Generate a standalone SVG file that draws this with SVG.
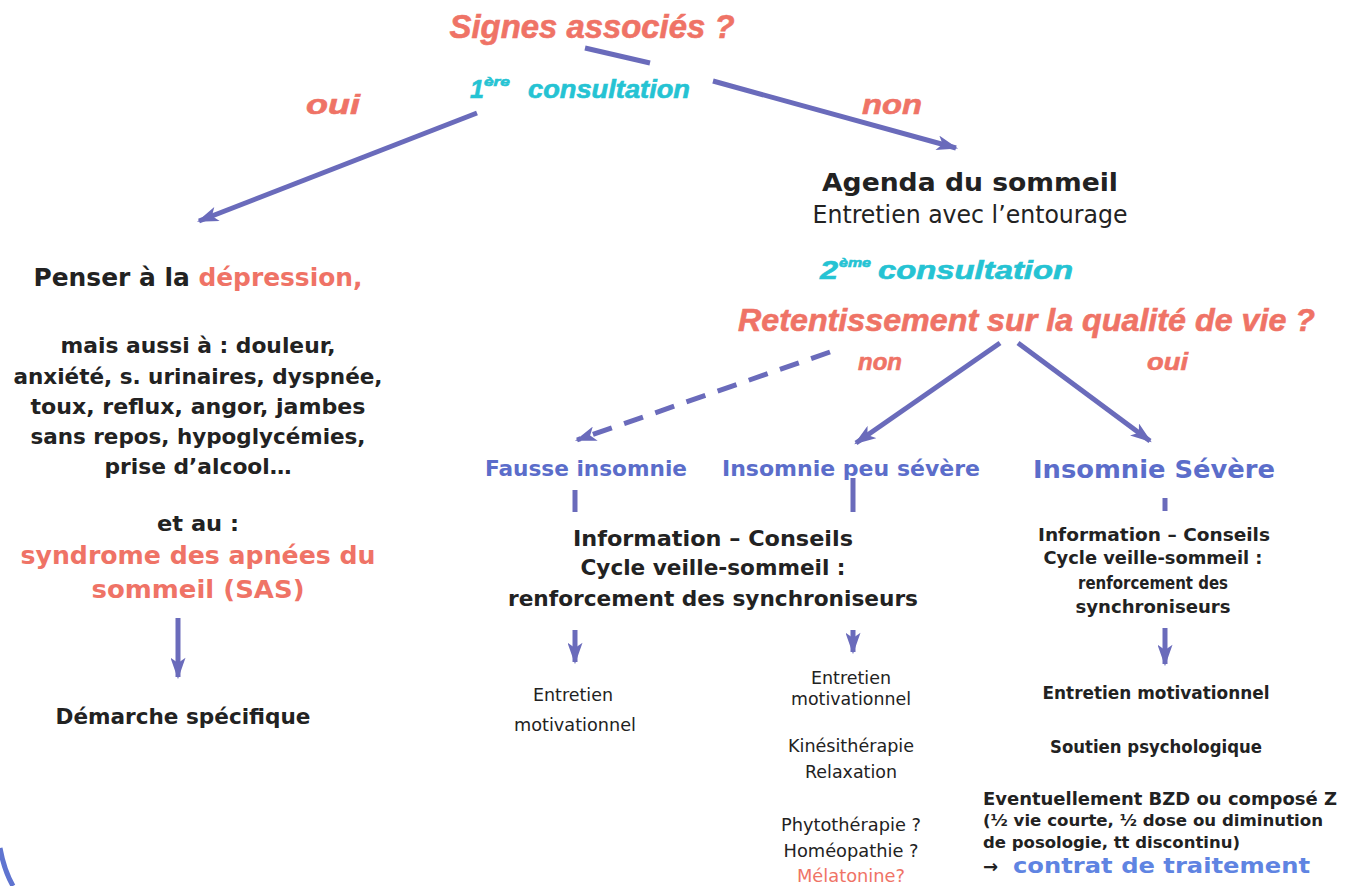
<svg xmlns="http://www.w3.org/2000/svg" width="1346" height="886" viewBox="0 0 1346 886">
<defs>
<style>
.h{font-family:"Liberation Sans Narrow","Liberation Sans",Arial,sans-serif;font-weight:bold;font-style:italic;stroke-width:0.6;}
.b{font-family:"DejaVu Sans",Verdana,sans-serif;font-weight:bold;fill:#222;}
.r{font-family:"DejaVu Sans",Verdana,sans-serif;fill:#222;}
.bl{font-family:"DejaVu Sans",Verdana,sans-serif;font-weight:bold;fill:#5b6dca;}
.c{text-anchor:middle;}
text.sal,tspan.sal{fill:#ef7366;}
text.h.sal{stroke:#ef7366;}
text.cy{fill:#25c3d3;stroke:#25c3d3;}
text.ct{fill:#5f84e2;}
.ln{stroke:#6a6bbb;stroke-width:5;fill:none;stroke-linecap:butt;}
</style>
<marker id="ah" viewBox="0 0 20 14" refX="18" refY="7" markerWidth="22" markerHeight="15" markerUnits="userSpaceOnUse" orient="auto">
<path d="M0,0 L20,7 L0,14 L5,7 z" fill="#6a6bbb"/>
</marker>
</defs>
<rect width="1346" height="886" fill="#fff"/>

<g id="connectors">
<path class="ln" d="M585,48 L650,63"/>
<path class="ln" d="M713,81 L956,148" marker-end="url(#ah)"/>
<path class="ln" d="M477,113 L199,221" marker-end="url(#ah)"/>
<path class="ln" d="M830,352 L577,440" stroke-width="6" stroke-dasharray="20 13" marker-end="url(#ah)"/>
<path class="ln" d="M1000,343 L856,443" marker-end="url(#ah)"/>
<path class="ln" d="M1018,343 L1150,441" marker-end="url(#ah)"/>
<path class="ln" d="M575,490 L575,512" stroke-width="6"/>
<path class="ln" d="M853,478 L853,512" stroke-width="6"/>
<path class="ln" d="M1165,498 L1165,511" stroke-width="6"/>
<path class="ln" d="M575,630 L575,662" stroke-width="4" marker-end="url(#ah)"/>
<path class="ln" d="M853,630 L853,652" stroke-width="4" marker-end="url(#ah)"/>
<path class="ln" d="M1165,628 L1165,664" stroke-width="4" marker-end="url(#ah)"/>
<path class="ln" d="M178,618 L178,677" stroke-width="4" marker-end="url(#ah)"/>
<path d="M0,848 Q4,870 13,886" stroke="#5f74d0" stroke-width="5" fill="none"/>
</g>

<g id="n-signes">
<text class="h sal c" x="592" y="38" font-size="33" textLength="285" lengthAdjust="spacingAndGlyphs">Signes associés ?</text>
</g>
<g id="n-consult1">
<text class="h cy" x="470" y="98" font-size="25">1</text>
<text class="h cy" x="484" y="86" font-size="13" textLength="26" lengthAdjust="spacingAndGlyphs" stroke-width="0.2">ère</text>
<text class="h cy" x="528" y="98" font-size="25" textLength="162" lengthAdjust="spacingAndGlyphs">consultation</text>
</g>
<g id="l-oui1"><text class="h sal" x="306" y="114" font-size="28" textLength="54" lengthAdjust="spacingAndGlyphs">oui</text></g>
<g id="l-non1"><text class="h sal" x="862" y="114" font-size="28" textLength="60" lengthAdjust="spacingAndGlyphs">non</text></g>

<g id="n-agenda">
<text class="b c" x="970" y="191" font-size="24" textLength="296" lengthAdjust="spacingAndGlyphs">Agenda du sommeil</text>
<text class="r c" x="970" y="223" font-size="24" textLength="315" lengthAdjust="spacingAndGlyphs">Entretien avec l’entourage</text>
</g>
<g id="n-consult2">
<text class="h cy" x="820" y="279" font-size="25" textLength="18" lengthAdjust="spacingAndGlyphs">2</text>
<text class="h cy" x="839" y="267" font-size="13" textLength="32" lengthAdjust="spacingAndGlyphs" stroke-width="0.2">ème</text>
<text class="h cy" x="878" y="279" font-size="25" textLength="195" lengthAdjust="spacingAndGlyphs">consultation</text>
</g>
<g id="n-retent">
<text class="h sal" x="738" y="331" font-size="32" textLength="577" lengthAdjust="spacingAndGlyphs">Retentissement sur la qualité de vie ?</text>
</g>
<g id="l-non2"><text class="h sal" x="858" y="370" font-size="24" textLength="44" lengthAdjust="spacingAndGlyphs">non</text></g>
<g id="l-oui2"><text class="h sal" x="1147" y="370" font-size="24" textLength="41" lengthAdjust="spacingAndGlyphs">oui</text></g>

<g id="n-fausse"><text class="bl" x="485" y="476" font-size="21" textLength="202" lengthAdjust="spacingAndGlyphs">Fausse insomnie</text></g>
<g id="n-peu"><text class="bl" x="722" y="476" font-size="21" textLength="258" lengthAdjust="spacingAndGlyphs">Insomnie peu sévère</text></g>
<g id="n-severe"><text class="bl" x="1033" y="478" font-size="25" textLength="242" lengthAdjust="spacingAndGlyphs">Insomnie Sévère</text></g>

<g id="n-info-mid">
<text class="b c" x="713" y="546" font-size="22" textLength="280" lengthAdjust="spacingAndGlyphs">Information – Conseils</text>
<text class="b c" x="713" y="575" font-size="22" textLength="265" lengthAdjust="spacingAndGlyphs">Cycle veille-sommeil :</text>
<text class="b c" x="713" y="606" font-size="22" textLength="410" lengthAdjust="spacingAndGlyphs">renforcement des synchroniseurs</text>
</g>
<g id="n-info-right">
<text class="b c" x="1154" y="541" font-size="18" textLength="232" lengthAdjust="spacingAndGlyphs">Information – Conseils</text>
<text class="b c" x="1153" y="564" font-size="18" textLength="219" lengthAdjust="spacingAndGlyphs">Cycle veille-sommeil :</text>
<text class="b c" x="1153" y="589" font-size="18" textLength="150" lengthAdjust="spacingAndGlyphs">renforcement des</text>
<text class="b c" x="1153" y="613" font-size="18" textLength="155" lengthAdjust="spacingAndGlyphs">synchroniseurs</text>
</g>

<g id="n-entretien-left">
<text class="r c" x="573" y="701" font-size="17" textLength="80" lengthAdjust="spacingAndGlyphs">Entretien</text>
<text class="r c" x="575" y="731" font-size="17" textLength="122" lengthAdjust="spacingAndGlyphs">motivationnel</text>
</g>
<g id="n-entretien-mid">
<text class="r c" x="851" y="684" font-size="17" textLength="80" lengthAdjust="spacingAndGlyphs">Entretien</text>
<text class="r c" x="851" y="705" font-size="17" textLength="120" lengthAdjust="spacingAndGlyphs">motivationnel</text>
<text class="r c" x="851" y="752" font-size="17" textLength="126" lengthAdjust="spacingAndGlyphs">Kinésithérapie</text>
<text class="r c" x="851" y="778" font-size="17" textLength="92" lengthAdjust="spacingAndGlyphs">Relaxation</text>
<text class="r c" x="851" y="831" font-size="17" textLength="140" lengthAdjust="spacingAndGlyphs">Phytothérapie ?</text>
<text class="r c" x="851" y="857" font-size="17" textLength="135" lengthAdjust="spacingAndGlyphs">Homéopathie ?</text>
<text class="r c sal" x="851" y="882" font-size="17" textLength="108" lengthAdjust="spacingAndGlyphs">Mélatonine?</text>
</g>
<g id="n-right-list">
<text class="b c" x="1156" y="699" font-size="18" textLength="227" lengthAdjust="spacingAndGlyphs">Entretien motivationnel</text>
<text class="b c" x="1156" y="753" font-size="18" textLength="212" lengthAdjust="spacingAndGlyphs">Soutien psychologique</text>
<text class="b" x="983" y="805" font-size="18" textLength="354" lengthAdjust="spacingAndGlyphs">Eventuellement BZD ou composé Z</text>
<text class="b" x="983" y="826" font-size="16" textLength="340" lengthAdjust="spacingAndGlyphs">(½ vie courte, ½ dose ou diminution</text>
<text class="b" x="983" y="848" font-size="16" textLength="257" lengthAdjust="spacingAndGlyphs">de posologie, tt discontinu)</text>
<text class="b" x="983" y="873" font-size="18">→</text>
<text class="bl ct" x="1013" y="873" font-size="22" textLength="297" lengthAdjust="spacingAndGlyphs">contrat de traitement</text>
</g>

<g id="n-depression">
<text class="b c" x="198" y="286" font-size="24" textLength="329" lengthAdjust="spacingAndGlyphs">Penser à la <tspan class="sal">dépression,</tspan></text>
<text class="b c" x="198" y="353" font-size="21" textLength="275" lengthAdjust="spacingAndGlyphs">mais aussi à : douleur,</text>
<text class="b c" x="198" y="384" font-size="21" textLength="369" lengthAdjust="spacingAndGlyphs">anxiété, s. urinaires, dyspnée,</text>
<text class="b c" x="198" y="414" font-size="21" textLength="335" lengthAdjust="spacingAndGlyphs">toux, reflux, angor, jambes</text>
<text class="b c" x="198" y="444" font-size="21" textLength="335" lengthAdjust="spacingAndGlyphs">sans repos, hypoglycémies,</text>
<text class="b c" x="198" y="474" font-size="21" textLength="187" lengthAdjust="spacingAndGlyphs">prise d’alcool…</text>
<text class="b c" x="198" y="531" font-size="21" textLength="82" lengthAdjust="spacingAndGlyphs">et au :</text>
<text class="b c sal" x="198" y="564" font-size="25" textLength="355" lengthAdjust="spacingAndGlyphs">syndrome des apnées du</text>
<text class="b c sal" x="198" y="598" font-size="25" textLength="213" lengthAdjust="spacingAndGlyphs">sommeil (SAS)</text>
</g>
<g id="n-demarche">
<text class="b c" x="183" y="724" font-size="22" textLength="255" lengthAdjust="spacingAndGlyphs">Démarche spécifique</text>
</g>
</svg>
